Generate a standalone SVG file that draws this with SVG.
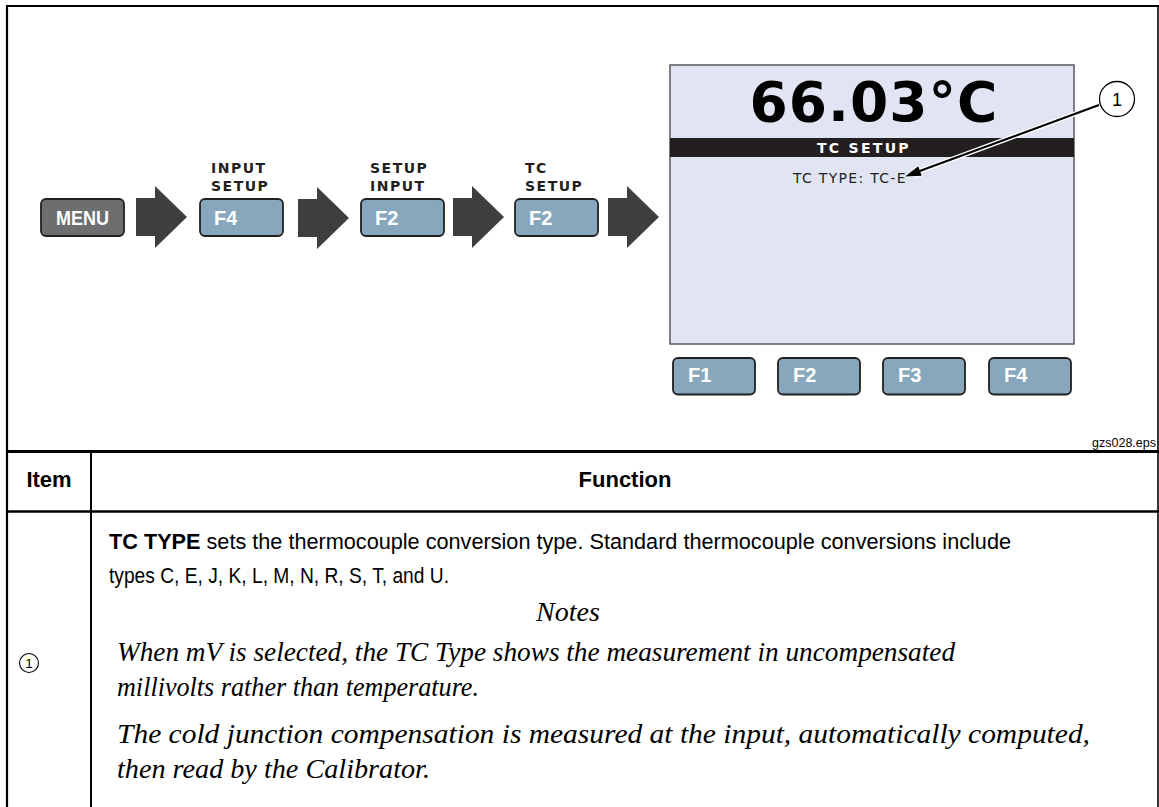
<svg xmlns="http://www.w3.org/2000/svg" width="1159" height="807" viewBox="0 0 1159 807">
<style>
.btn{fill:#87a7bc;stroke:#231f20;stroke-width:1.8}
.menu{fill:#6d6e70;stroke:#231f20;stroke-width:1.8}
.bt{font-family:"Liberation Sans",Arial,sans-serif;font-weight:bold;font-size:20px;fill:#ffffff}
.lab{font-family:"DejaVu Sans",Verdana,sans-serif;font-weight:bold;font-size:14px;letter-spacing:1.5px;fill:#231f20}
.frame{stroke:#000;fill:none}
.body{font-family:"Liberation Sans",Arial,sans-serif;font-size:21.5px;fill:#000}
.hdr{font-family:"Liberation Sans",Arial,sans-serif;font-size:22px;font-weight:bold;fill:#000}
.note{font-family:"Liberation Serif","Times New Roman",serif;font-style:italic;font-size:28px;fill:#000}
.arrow{fill:#403d3e}
</style>
<defs>
<path id="blk" d="M0,12 H19 V0 L51,31 L19,62 V50 H0 Z"/>
</defs>
<rect x="0" y="0" width="1159" height="807" fill="#fff"/>
<g id="frame">
<line class="frame" x1="7" y1="6" x2="7" y2="807" stroke-width="2.2"/>
<line class="frame" x1="6" y1="6" x2="1159" y2="6" stroke-width="2.2"/>
<line class="frame" x1="1158" y1="5" x2="1158" y2="807" stroke-width="1.6"/>
<line class="frame" x1="6" y1="451.5" x2="1159" y2="451.5" stroke-width="3"/>
<line class="frame" x1="6" y1="511.5" x2="1159" y2="511.5" stroke-width="2.5"/>
<line class="frame" x1="91" y1="451" x2="91" y2="807" stroke-width="2"/>
</g>
<g id="connectors">
<use href="#blk" class="arrow" transform="translate(136,186)"/>
<use href="#blk" class="arrow" transform="translate(298,187)"/>
<use href="#blk" class="arrow" transform="translate(453,186)"/>
<use href="#blk" class="arrow" transform="translate(608,186)"/>
</g>
<g id="menu">
<rect class="menu" x="41" y="199" width="83" height="37" rx="5"/>
<text class="bt" x="56" y="224.5" textLength="53" lengthAdjust="spacingAndGlyphs">MENU</text>
</g>
<g id="input-setup">
<text class="lab" x="211" y="173">INPUT</text>
<text class="lab" x="211" y="191">SETUP</text>
<rect class="btn" x="200" y="199" width="83" height="37" rx="5"/>
<text class="bt" x="214" y="224.5">F4</text>
</g>
<g id="setup-input">
<text class="lab" x="370" y="173">SETUP</text>
<text class="lab" x="370" y="191">INPUT</text>
<rect class="btn" x="361" y="199" width="83" height="37" rx="5"/>
<text class="bt" x="375" y="224.5">F2</text>
</g>
<g id="tc-setup">
<text class="lab" x="525" y="173">TC</text>
<text class="lab" x="525" y="191">SETUP</text>
<rect class="btn" x="515" y="199" width="83" height="37" rx="5"/>
<text class="bt" x="529" y="224.5">F2</text>
</g>
<g id="screen">
<rect x="670" y="65" width="404" height="279" fill="#e1e5f3" stroke="#58595b" stroke-width="1.5"/>
<text x="874" y="121" text-anchor="middle" font-family="'DejaVu Sans',Verdana,sans-serif" font-weight="bold" font-size="55" letter-spacing="1" fill="#000">66.03°C</text>
<rect x="670" y="138" width="404" height="19" fill="#231f20"/>
<text x="817" y="153" font-family="'DejaVu Sans',Verdana,sans-serif" font-weight="bold" font-size="14" letter-spacing="2.3" fill="#fff">TC SETUP</text>
<text x="793" y="183" font-family="'DejaVu Sans',Verdana,sans-serif" font-size="14" letter-spacing="1.3" fill="#231f20">TC TYPE: TC-E</text>
</g>
<g id="softkeys">
<rect class="btn" x="673" y="358" width="82" height="36.5" rx="5"/>
<text class="bt" x="688" y="382">F1</text>
<rect class="btn" x="778" y="358" width="82" height="36.5" rx="5"/>
<text class="bt" x="793" y="382">F2</text>
<rect class="btn" x="883" y="358" width="82" height="36.5" rx="5"/>
<text class="bt" x="898" y="382">F3</text>
<rect class="btn" x="989" y="358" width="82" height="36.5" rx="5"/>
<text class="bt" x="1004" y="382">F4</text>
</g>
<g id="callout-1">
<line x1="1099" y1="105" x2="920" y2="171" stroke="#fff" stroke-width="5"/>
<polygon points="905,176.5 921.7,175.7 918.3,166.3" fill="#000" stroke="#fff" stroke-width="1.5"/>
<line x1="1099" y1="105" x2="919" y2="171.3" stroke="#000" stroke-width="2"/>
<polygon points="905,176.5 921.7,175.7 918.3,166.3" fill="#000"/>
<circle cx="1117" cy="99" r="17.5" fill="#fff" stroke="#000" stroke-width="1.3"/>
<text x="1117" y="105.5" text-anchor="middle" font-family="'Liberation Sans',Arial,sans-serif" font-size="18" fill="#000">1</text>
</g>
<text x="1156" y="447" text-anchor="end" font-family="'Liberation Sans',Arial,sans-serif" font-size="12.5" fill="#000">gzs028.eps</text>
<g id="table">
<text class="hdr" x="49" y="487" text-anchor="middle">Item</text>
<text class="hdr" x="625" y="487" text-anchor="middle">Function</text>
<circle cx="29" cy="663" r="9.5" fill="none" stroke="#000" stroke-width="1.1"/>
<text x="29" y="668" text-anchor="middle" font-family="'Liberation Sans',Arial,sans-serif" font-size="13.5" fill="#000">1</text>
<text class="body" x="109" y="549" textLength="902" lengthAdjust="spacingAndGlyphs"><tspan font-weight="bold">TC TYPE</tspan> sets the thermocouple conversion type. Standard thermocouple conversions include</text>
<text class="body" x="109" y="583" textLength="340" lengthAdjust="spacingAndGlyphs">types C, E, J, K, L, M, N, R, S, T, and U.</text>
<text class="note" x="568" y="621" text-anchor="middle" font-size="25">Notes</text>
<text class="note" x="117" y="661" textLength="838" lengthAdjust="spacingAndGlyphs">When mV is selected, the TC Type shows the measurement in uncompensated</text>
<text class="note" x="117" y="696" textLength="362" lengthAdjust="spacingAndGlyphs">millivolts rather than temperature.</text>
<text class="note" x="117" y="743" textLength="973" lengthAdjust="spacingAndGlyphs">The cold junction compensation is measured at the input, automatically computed,</text>
<text class="note" x="117" y="778" textLength="313" lengthAdjust="spacingAndGlyphs">then read by the Calibrator.</text>
</g>
</svg>
